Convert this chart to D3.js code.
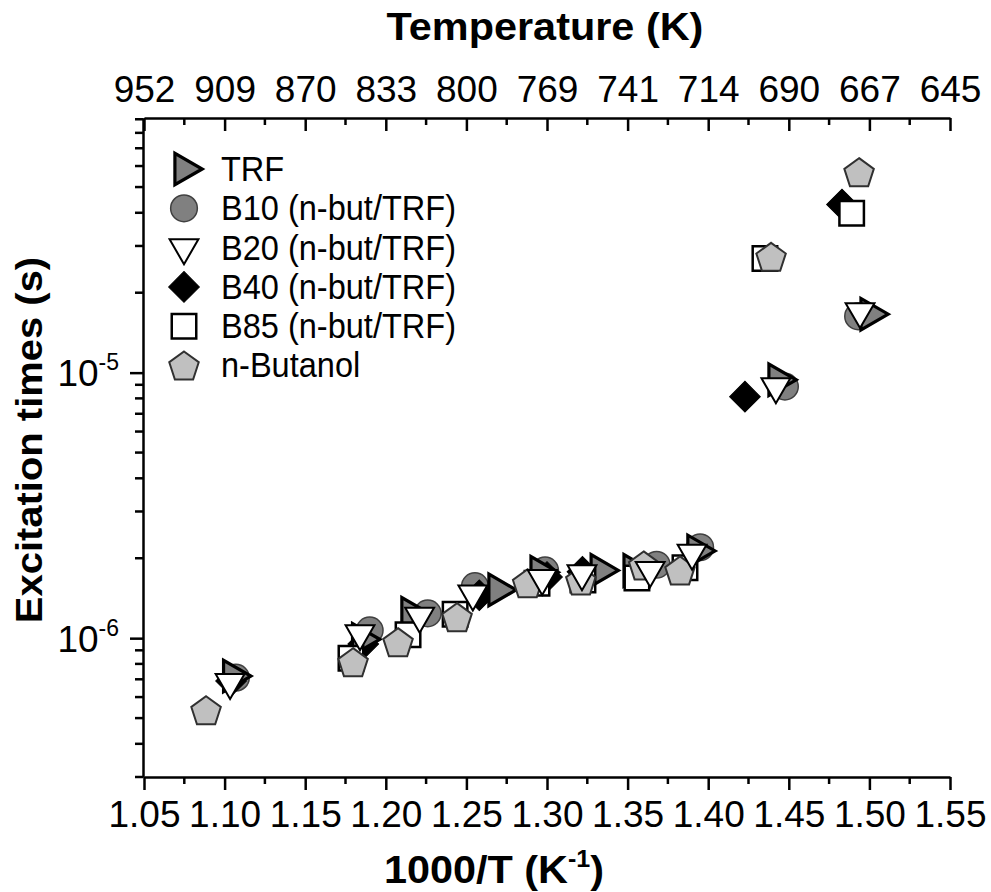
<!DOCTYPE html>
<html>
<head>
<meta charset="utf-8">
<script src="https://cdn.jsdelivr.net/npm/d3@7"></script>
<style>
body { margin: 0; background: #fff; }
text { font-family: "Liberation Sans", Arial, sans-serif; fill: #000; }
</style>
</head>
<body>
<script>
// 1000/T (K^-1) and excitation time (s) for each mixture
var trfX = [1.105, 1.185, 1.2156, 1.2696, 1.2957, 1.333, 1.3534, 1.393, 1.4433, 1.5004];
var trfY = [7.2e-7, 9.9e-7, 1.24e-6, 1.52e-6, 1.77e-6, 1.8e-6, 1.8e-6, 2.13e-6, 9.4e-6, 1.66e-5];

var b10X = [1.107, 1.190, 1.226, 1.2553, 1.2988, 1.368, 1.395, 1.4476, 1.493];
var b10Y = [7.1e-7, 1.07e-6, 1.24e-6, 1.57e-6, 1.8e-6, 1.89e-6, 2.2e-6, 8.86e-6, 1.63e-5];

var b20X = [1.1034, 1.184, 1.221, 1.254, 1.297, 1.3217, 1.364, 1.390, 1.442, 1.4942];
var b20Y = [6.82e-7, 1.04e-6, 1.21e-6, 1.47e-6, 1.68e-6, 1.75e-6, 1.8e-6, 2.09e-6, 8.86e-6, 1.7e-5];

var b40X = [1.104, 1.186, 1.258, 1.300, 1.322, 1.4228, 1.483];
var b40Y = [6.9e-7, 9.5e-7, 1.45e-6, 1.7e-6, 1.78e-6, 8.12e-6, 4.3e-5];

var b85X = [1.1784, 1.2138, 1.243, 1.2938, 1.3223, 1.3558, 1.3856, 1.4352, 1.489];
var b85Y = [8.4e-7, 1.03e-6, 1.23e-6, 1.61e-6, 1.655e-6, 1.685e-6, 1.84e-6, 2.69e-5, 3.98e-5];

var nbuX = [1.0885, 1.1797, 1.2076, 1.2442, 1.288, 1.321, 1.360, 1.3825, 1.439, 1.4936];
var nbuY = [5.35e-7, 8.12e-7, 9.66e-7, 1.2e-6, 1.61e-6, 1.65e-6, 1.88e-6, 1.8e-6, 2.73e-5, 5.69e-5];

var xTicks = [1.05, 1.10, 1.15, 1.20, 1.25, 1.30, 1.35, 1.40, 1.45, 1.50, 1.55];
var yTicks = [1e-6, 1e-5];
var seriesNames = ["TRF", "B10 (n-but/TRF)", "B20 (n-but/TRF)", "B40 (n-but/TRF)", "B85 (n-but/TRF)", "n-Butanol"];

var width = 991, height = 892;
var legSqueeze = 0.93;  // legend text is a bit narrow
var titleStretch = 1.09; // axis titles are a bit wide

var svg = d3.select("body").append("svg").attr("width", width).attr("height", height);

var x = d3.scaleLinear().domain([1.05, 1.55]).range([144, 950]);
var y = d3.scaleLog().domain([3e-7, 9.1e-5]).range([777, 118]);

// marker shapes
function tri(s) { return d3.symbol().type(d3.symbolTriangle).size(s)(); }
var shapes = {
    "TRF": { path: tri(430), rot: 90, fill: "#808080", stroke: "#000", sw: 3.2 },
    "B10 (n-but/TRF)": { path: d3.symbol().type(d3.symbolCircle).size(560)(), rot: 0, fill: "#808080", stroke: "#404040", sw: 1.5 },
    "B20 (n-but/TRF)": { path: tri(360), rot: 180, fill: "#fff", stroke: "#000", sw: 2 },
    "B40 (n-but/TRF)": { path: d3.symbol().type(d3.symbolSquare).size(470)(), rot: 45, fill: "#000", stroke: "#000", sw: 1 },
    "B85 (n-but/TRF)": { path: d3.symbol().type(d3.symbolSquare).size(600)(), rot: 0, fill: "#fff", stroke: "#000", sw: 2.5 },
    "n-Butanol": { path: "", rot: 0, fill: "#c0c0c0", stroke: "#303030", sw: 2 }
};
// pentagon path (d3 v7 has no pentagon symbol)
(function () {
    var r = 15.5, pts = [];
    for (var i = 0; i < 5; i++) {
        var a = -Math.PI / 2 + i * 2 * Math.PI / 5;
        pts.push([r * Math.cos(a), r * Math.sin(a) + 1.5]);
    }
    shapes["n-Butanol"].path = "M" + pts.join("L") + "Z";
})();

var data = {
    "TRF": [trfX, trfY],
    "B10 (n-but/TRF)": [b10X, b10Y],
    "B20 (n-but/TRF)": [b20X, b20Y],
    "B40 (n-but/TRF)": [b40X, b40Y],
    "B85 (n-but/TRF)": [b85X, b85Y],
    "n-Butanol": [nbuX, nbuY]
};

// drawing order, bottom to top
var order = ["B10 (n-but/TRF)", "B40 (n-but/TRF)", "TRF", "B85 (n-but/TRF)", "n-Butanol", "B20 (n-but/TRF)"];

function drawMarker(g, name, cx, cy) {
    var s = shapes[name];
    g.append("path").attr("d", s.path)
        .attr("transform", "translate(" + cx + "," + cy + ") rotate(" + s.rot + ")")
        .attr("fill", s.fill).attr("stroke", s.stroke).attr("stroke-width", s.sw)
        .attr("stroke-linejoin", "miter");
}

// Axes
var axBottom = svg.append("g").attr("transform", "translate(0,777)")
    .call(d3.axisBottom(x).tickValues(xTicks).tickSize(13).tickSizeOuter(0).tickPadding(11).tickFormat(d3.format(".2f")));
axBottom.selectAll("text").attr("font-size", 37);

var axTop = svg.append("g").attr("transform", "translate(0,118)")
    .call(d3.axisTop(x).tickValues(xTicks).tickSize(-13).tickSizeOuter(0).tickPadding(16).tickFormat(function (d) { return Math.round(1000 / d); }));
axTop.selectAll("text").attr("font-size", 37);

var minorX = d3.range(1.075, 1.55, 0.05);
svg.append("g").selectAll("line").data(minorX).join("line")
    .attr("x1", d => x(d)).attr("x2", d => x(d)).attr("y1", 777).attr("y2", 784)
    .attr("stroke", "#000").attr("stroke-width", 2.5);
svg.append("g").selectAll("line").data(minorX).join("line")
    .attr("x1", d => x(d)).attr("x2", d => x(d)).attr("y1", 118).attr("y2", 125)
    .attr("stroke", "#000").attr("stroke-width", 2.5);

var axLeft = svg.append("g").attr("transform", "translate(143,0)")
    .call(d3.axisLeft(y).tickValues(yTicks).tickSize(13).tickSizeOuter(0).tickFormat(""));
var minorY = [];
[1e-7, 1e-6, 1e-5].forEach(function (dec) {
    for (var k = 2; k <= 9; k++) {
        var v = dec * k;
        if (v >= 3e-7 && v <= 9.1e-5) minorY.push(v);
    }
});
axLeft.append("g").selectAll("line").data(minorY).join("line")
    .attr("x1", -8).attr("x2", 0).attr("y1", d => y(d)).attr("y2", d => y(d))
    .attr("stroke", "#000").attr("stroke-width", 2.5);
axLeft.selectAll(".tick").append("text")
    .attr("x", -24).attr("y", 13).attr("text-anchor", "end").attr("font-size", 37).attr("fill", "#000")
    .each(function (d) {
        var t = d3.select(this);
        t.append("tspan").text("10");
        t.append("tspan").attr("font-size", 23).attr("dy", -16).text(String(Math.round(Math.log10(d))));
    });

[axBottom, axTop, axLeft].forEach(function (a) {
    a.select(".domain").attr("stroke-width", 2.5);
    a.selectAll(".tick line").attr("stroke-width", 2.5);
});

// titles
svg.append("text").attr("x", 545 / titleStretch).attr("y", 40).attr("text-anchor", "middle")
    .attr("font-size", 38).attr("font-weight", "bold").attr("transform", "scale(" + titleStretch + ",1)")
    .text("Temperature (K)");

var xt = svg.append("text").attr("x", 494 / titleStretch).attr("y", 883).attr("text-anchor", "middle")
    .attr("font-size", 38).attr("font-weight", "bold").attr("transform", "scale(" + titleStretch + ",1)");
xt.append("tspan").text("1000/T (K");
xt.append("tspan").attr("font-size", 23).attr("dy", -16).text("-1");
xt.append("tspan").attr("dy", 16).text(")");

svg.append("text").attr("transform", "translate(42,440) rotate(-90) scale(1.08,1)")
    .attr("text-anchor", "middle").attr("font-size", 37).attr("font-weight", "bold")
    .text("Excitation times (s)");

// points
var plot = svg.append("g");
order.forEach(function (name) {
    var xs = data[name][0], ys = data[name][1];
    for (var i = 0; i < xs.length; i++) drawMarker(plot, name, x(xs[i]), y(ys[i]));
});

// legend
var legend = svg.append("g");
seriesNames.forEach(function (name, i) {
    var cy = 169 + i * 39.3;
    drawMarker(legend, name, 184, cy);
    legend.append("text").attr("x", 221 / legSqueeze).attr("y", cy + 12).attr("font-size", 35)
        .attr("transform", "scale(" + legSqueeze + ",1)").text(name);
});
</script>
</body>
</html>
